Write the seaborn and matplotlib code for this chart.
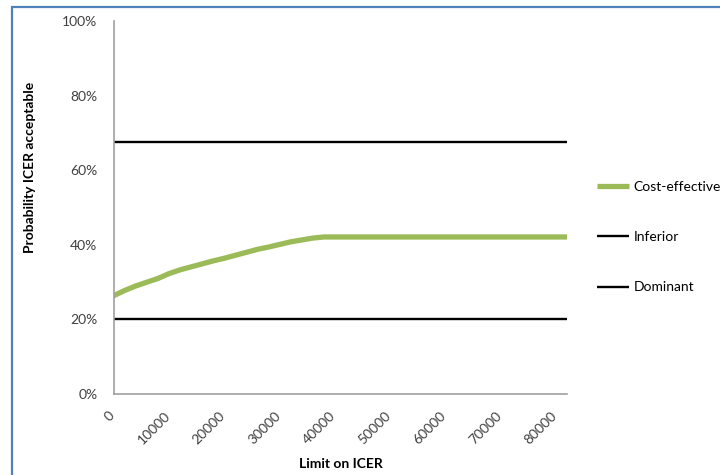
import matplotlib
matplotlib.use("Agg")
import matplotlib.pyplot as plt
from matplotlib.patches import Rectangle
from matplotlib.transforms import ScaledTranslation
from matplotlib.ticker import PercentFormatter
import seaborn as sns
import pandas as pd

# Willingness-to-pay thresholds (ICER limit) and acceptability probabilities
icer_limit = [0, 2000, 4000, 6000, 8000, 10000, 12000, 14000, 16000, 18000,
              20000, 22000, 24000, 26000, 28000, 30000, 32000, 34000, 36000,
              38000, 82000]
cost_effective = [0.264, 0.278, 0.290, 0.300, 0.310, 0.323, 0.333, 0.341,
                  0.349, 0.357, 0.364, 0.372, 0.380, 0.388, 0.394, 0.401,
                  0.408, 0.413, 0.418, 0.421, 0.421]
band_limits = [0, 82000]
inferior = [0.676, 0.676]
dominant = [0.200, 0.200]

x_ticks = [0, 10000, 20000, 30000, 40000, 50000, 60000, 70000, 80000]
y_ticks = [0, 0.2, 0.4, 0.6, 0.8, 1.0]

sns.set_theme(style="white")
plt.rcParams["font.family"] = ["Lato", "DejaVu Sans"]

fig = plt.figure(figsize=(7.2, 4.75), dpi=100)
ax = fig.add_axes([114 / 720, 1 - 394 / 475, (567 - 114) / 720, (394 - 21) / 475])

ce = pd.DataFrame({"limit": icer_limit, "prob": cost_effective})
inf = pd.DataFrame({"limit": band_limits, "prob": inferior})
dom = pd.DataFrame({"limit": band_limits, "prob": dominant})

sns.lineplot(data=ce, x="limit", y="prob", ax=ax, color="#9BBB59",
             linewidth=3.8, label="Cost-effective")
sns.lineplot(data=inf, x="limit", y="prob", ax=ax, color="black",
             linewidth=1.7, label="Inferior")
sns.lineplot(data=dom, x="limit", y="prob", ax=ax, color="black",
             linewidth=1.7, label="Dominant")

ax.set_xlim(0, 82000)
ax.set_ylim(0, 1)
ax.set_yticks(y_ticks)
ax.yaxis.set_major_formatter(PercentFormatter(1.0, decimals=0))
ax.set_xticks(x_ticks)
ax.set_xticklabels([str(v) for v in x_ticks], rotation=45, ha="right", va="top")

ax.tick_params(axis="both", length=0, labelsize=10, labelcolor="#404040")
ax.tick_params(axis="y", pad=12)
ax.tick_params(axis="x", pad=11)
shift = ScaledTranslation(3 / 100, 0, fig.dpi_scale_trans)
for lbl in ax.get_xticklabels():
    lbl.set_transform(lbl.get_transform() + shift)

for side in ("top", "right"):
    ax.spines[side].set_visible(False)
for side in ("left", "bottom"):
    ax.spines[side].set_color("#A0A0A0")
    ax.spines[side].set_linewidth(1.2)

ax.set_xlabel("Limit on ICER", fontsize=10, fontweight="bold", color="black")
ax.set_ylabel("Probability ICER acceptable", fontsize=10, fontweight="bold",
              color="black")
ax.xaxis.set_label_coords(0.5, -0.172)
ax.yaxis.set_label_coords(-0.172, 0.607)

leg = ax.legend(loc="upper left", bbox_to_anchor=(597 / 720, 1 - 181 / 475),
                bbox_transform=fig.transFigure, frameon=False, fontsize=10,
                handlelength=2.3, handletextpad=0.35, labelspacing=2.75,
                borderpad=0, borderaxespad=0)
for t in leg.get_texts():
    t.set_color("black")
for h in leg.get_lines():
    h.set_solid_capstyle("butt")

# Outer chart-area frame
fig.patches.append(Rectangle((12 / 720, -0.1), 1.2, 1 - 7 / 475 + 0.1,
                             transform=fig.transFigure, fill=False,
                             edgecolor="#4F81BD", linewidth=1.6, zorder=10))

fig.savefig("out.png", dpi=100)
